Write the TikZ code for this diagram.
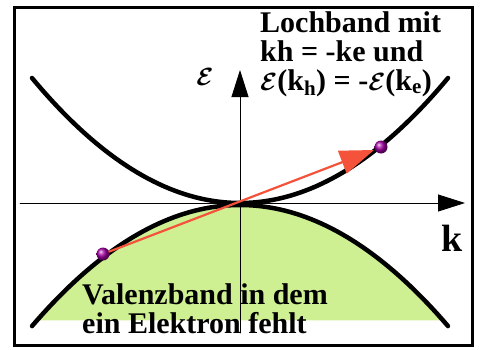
\documentclass[tikz,border=0pt]{standalone}
\usepackage{fontspec}
\setmainfont{Liberation Serif}[BoldFont={Liberation Serif Bold}]
\usetikzlibrary{arrows.meta}
\definecolor{bandgreen}{RGB}{206,240,146}
\definecolor{arrowred}{RGB}{244,82,58}
\tikzset{
  band/.style={line width=4.5pt},
  axis/.style={line width=0.8pt,-{Triangle[length=27pt,width=17pt]}},
  dot/.style={circle,inner sep=0pt,minimum size=13pt,ball color=violet!70!magenta},
  lbl/.style={inner sep=0pt,align=left,font=\fontsize{30}{29}\selectfont\bfseries\boldmath},
}
\begin{document}
\begin{tikzpicture}[x=1pt,y=-1pt,line cap=round,line join=round]
    \useasboundingbox (0,0) rectangle (480,349);
    % valence band, filled
    \fill[bandgreen] plot[domain=37:443,samples=60] (\x,{205+(0.0529*(\x-240))^2}) -- cycle;
    % axes
    \coordinate (kl) at (20,203);
    \coordinate (kr) at (465,203);
    \coordinate (eb) at (240,333);
    \coordinate (et) at (240,70);
    \draw[axis] (kl) -- (kr);
    \draw[axis] (eb) -- (et);
    % bands
    \draw[band] plot[domain=32:448,samples=80] (\x,{203-(0.05376*(\x-240))^2});
    \draw[band] plot[domain=32:448,samples=80] (\x,{205+(0.0529*(\x-240))^2});
    % electron and hole
    \node[dot] (el) at (103,254) {};
    \coordinate (tip) at (374,150);
    \draw[arrowred,line width=2.2pt,-{Triangle[length=34pt,width=24pt]}] (el) -- (tip);
    \node[dot] (ho) at (381,147) {};
    % labels
    \node[lbl,anchor=north west] (loch) at (260,11)
      {Lochband mit\\kh = -ke und\\$\mathcal{E}$(k\textsubscript{h}) = -$\mathcal{E}$(k\textsubscript{e})};
    \node[lbl,anchor=north west] (val) at (82,283)
      {Valenzband in dem\\ein Elektron fehlt};
    \node[inner sep=0pt,font=\fontsize{28}{28}\selectfont\boldmath] (elbl) at (205,77) {$\mathcal{E}$};
    \node[lbl,font=\fontsize{38}{38}\selectfont\bfseries] (klbl) at (452,238) {k};
    % frame
    \draw[line width=3pt,line cap=butt,line join=miter] (14,7) rectangle (472,345);
\end{tikzpicture}
\end{document}
